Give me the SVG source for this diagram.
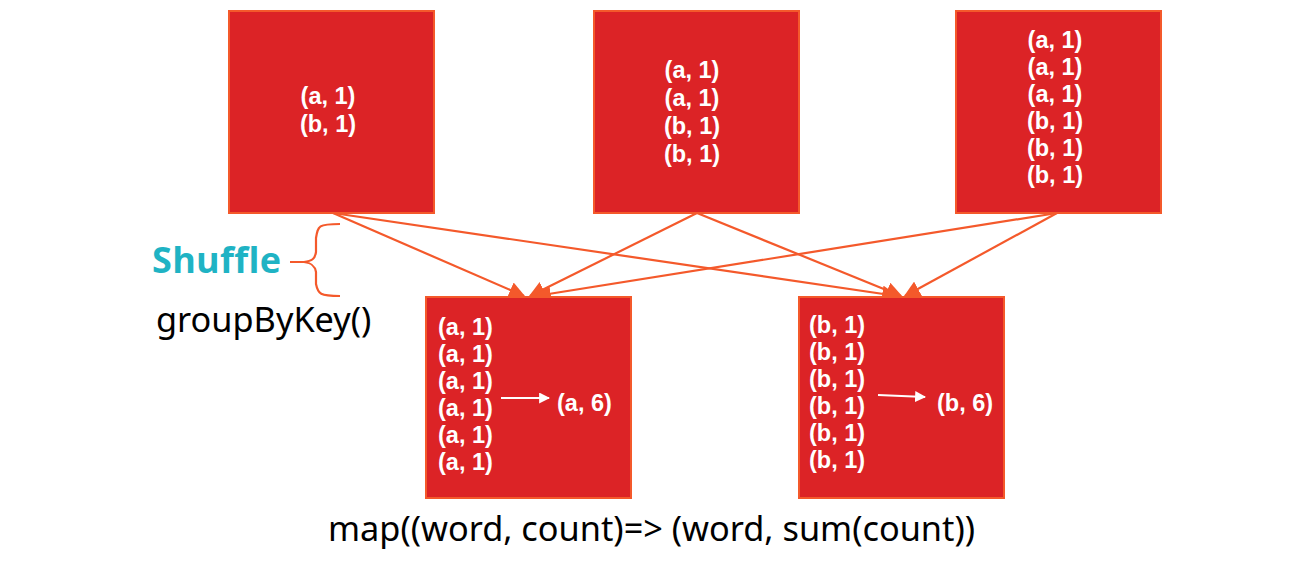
<svg xmlns="http://www.w3.org/2000/svg" width="1292" height="562" viewBox="0 0 1292 562">
<defs>
<style>
.box{fill:#dc2326;stroke:#f4592b;stroke-width:2}
.t{font-family:"Liberation Sans",Arial,sans-serif;font-weight:bold;font-size:23.5px;fill:#ffffff}
.c{stroke:#f4592b;stroke-width:2.2;fill:none}
.lbl{font-family:"Noto Sans","Open Sans",sans-serif;font-size:34.3px;fill:#000}
</style>
<marker id="ah" viewBox="0 0 10 10" refX="9" refY="5" markerWidth="7.5" markerHeight="7.5" orient="auto" markerUnits="strokeWidth">
<path d="M0,0 L10,5 L0,10 z" fill="#f4592b"/>
</marker>
<marker id="wh" viewBox="0 0 10 10" refX="9" refY="5" markerWidth="5.5" markerHeight="5.5" orient="auto" markerUnits="strokeWidth">
<path d="M0,0 L10,5 L0,10 z" fill="#ffffff"/>
</marker>
</defs>
<rect width="1292" height="562" fill="#ffffff"/>
<g id="connectors">
<line class="c" x1="333" y1="213" x2="524" y2="296" marker-end="url(#ah)"/>
<line class="c" x1="333" y1="213" x2="897" y2="296" marker-end="url(#ah)"/>
<line class="c" x1="697" y1="213" x2="530" y2="296" marker-end="url(#ah)"/>
<line class="c" x1="697" y1="213" x2="901" y2="296" marker-end="url(#ah)"/>
<line class="c" x1="1057" y1="213" x2="536" y2="296" marker-end="url(#ah)"/>
<line class="c" x1="1057" y1="213" x2="905" y2="296" marker-end="url(#ah)"/>
</g>
<g id="node1">
<rect class="box" x="229" y="11" width="205" height="202"/>
<text class="t" x="328" y="104" text-anchor="middle">(a, 1)</text>
<text class="t" x="328" y="132" text-anchor="middle">(b, 1)</text>
</g>
<g id="node2">
<rect class="box" x="594" y="11" width="205" height="202"/>
<text class="t" x="692" y="78" text-anchor="middle">(a, 1)</text>
<text class="t" x="692" y="106" text-anchor="middle">(a, 1)</text>
<text class="t" x="692" y="134" text-anchor="middle">(b, 1)</text>
<text class="t" x="692" y="162" text-anchor="middle">(b, 1)</text>
</g>
<g id="node3">
<rect class="box" x="956" y="11" width="205" height="202"/>
<text class="t" x="1055" y="48" text-anchor="middle">(a, 1)</text>
<text class="t" x="1055" y="75" text-anchor="middle">(a, 1)</text>
<text class="t" x="1055" y="102" text-anchor="middle">(a, 1)</text>
<text class="t" x="1055" y="129" text-anchor="middle">(b, 1)</text>
<text class="t" x="1055" y="156" text-anchor="middle">(b, 1)</text>
<text class="t" x="1055" y="183" text-anchor="middle">(b, 1)</text>
</g>
<g id="node4">
<rect class="box" x="426" y="297" width="205" height="201"/>
<text class="t" x="438" y="335">(a, 1)</text>
<text class="t" x="438" y="362">(a, 1)</text>
<text class="t" x="438" y="389">(a, 1)</text>
<text class="t" x="438" y="416">(a, 1)</text>
<text class="t" x="438" y="443">(a, 1)</text>
<text class="t" x="438" y="470">(a, 1)</text>
<line x1="501" y1="398" x2="549" y2="398" stroke="#fff" stroke-width="2" marker-end="url(#wh)"/>
<text class="t" x="557" y="411">(a, 6)</text>
</g>
<g id="node5">
<rect class="box" x="799" y="297" width="205" height="201"/>
<text class="t" x="809" y="333">(b, 1)</text>
<text class="t" x="809" y="360">(b, 1)</text>
<text class="t" x="809" y="387">(b, 1)</text>
<text class="t" x="809" y="414">(b, 1)</text>
<text class="t" x="809" y="441">(b, 1)</text>
<text class="t" x="809" y="468">(b, 1)</text>
<line x1="878" y1="395" x2="925" y2="397" stroke="#fff" stroke-width="2" marker-end="url(#wh)"/>
<text class="t" x="937" y="411">(b, 6)</text>
</g>
<g id="shuffle">
<text x="152" y="273" font-family="'Open Sans','Noto Sans',sans-serif" font-weight="bold" font-size="36" letter-spacing="0.3" fill="#1fb3c4">Shuffle</text>
<path class="c" d="M340,224 C318,224 318,226 316,238 L316,252 C315,259 312,261 304,262 L290,262 M304,262 C312,263 315,266 316,272 L316,284 C318,294 320,296 340,296"/>
</g>
<g id="groupByKey">
<text class="lbl" x="156" y="332">groupByKey()</text>
</g>
<g id="mapLabel">
<text class="lbl" x="328" y="541">map((word, count)=&gt; (word, sum(count))</text>
</g>
</svg>
